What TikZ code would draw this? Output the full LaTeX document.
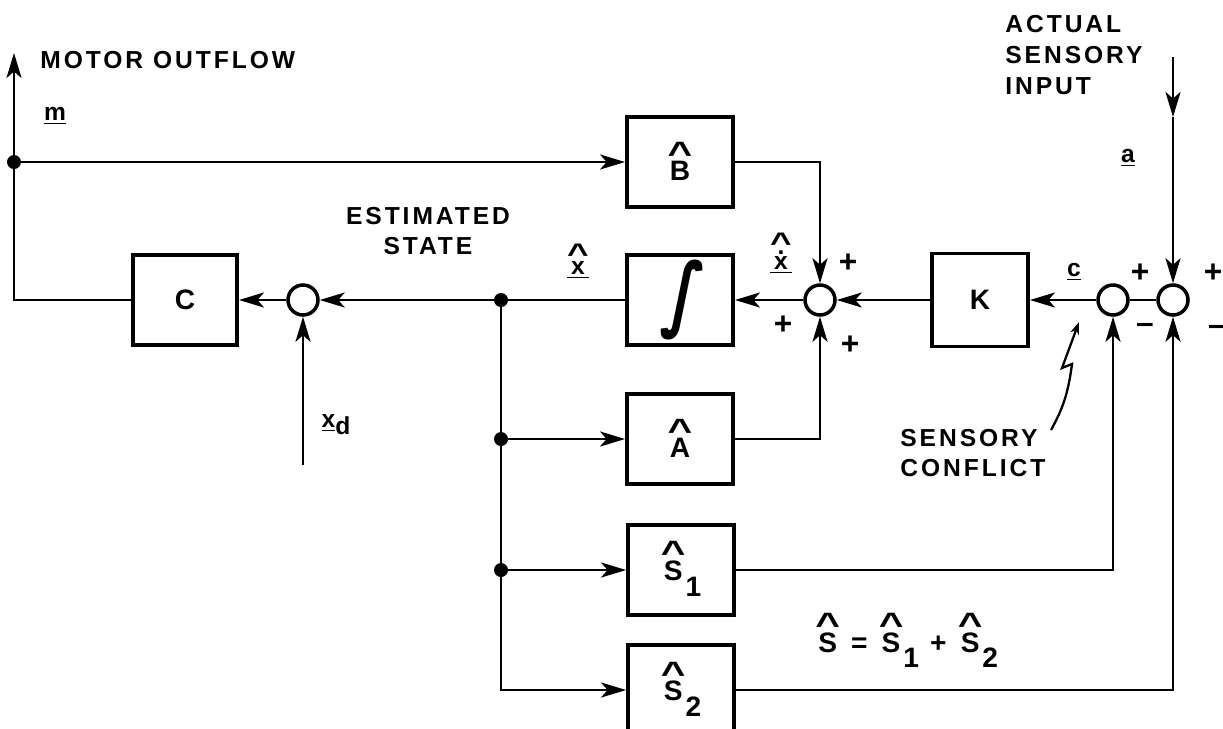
\documentclass[tikz,border=0pt]{standalone}
\usepackage{fontspec}
\setmainfont{Liberation Sans}
\newfontfamily\lettrage[LetterSpace=12]{Liberation Sans}
\newfontfamily\integ[FakeSlant=0.2]{DejaVu Sans}
\usetikzlibrary{arrows.meta}

\newcommand\empile[2]{\leavevmode\vbox{\offinterlineskip\halign{\hfil##\hfil\cr#1\cr\noalign{\kern3pt}#2\cr}}}
\newcommand\chapeau[1]{\empile{\raisebox{-0.3em}[0.42em][0pt]{\scalebox{1.5}[1.15]{\textasciicircum}}}{#1}}
\newcommand\pointe[1]{\leavevmode\vbox{\offinterlineskip\halign{\hfil##\hfil\cr.\cr\noalign{\kern1.5pt}#1\cr}}}
\newcommand\indice[1]{\raisebox{-9pt}{#1}}
\newcommand\souligne[1]{$\underline{\hbox{#1}}$}

\begin{document}
\begin{tikzpicture}[x=0.02cm,y=-0.02cm,
  bloc/.style={draw,line width=2.2pt,minimum width=2.12cm,minimum height=1.8cm,inner sep=0pt,
    font=\lettrage\bfseries\fontsize{16}{18}\selectfont},
  somme/.style={draw,circle,line width=2pt,minimum size=0.6cm,inner sep=0pt},
  point/.style={fill,circle,minimum size=0.28cm,inner sep=0pt},
  ligne/.style={line width=1.5pt},
  fleche/.style={ligne,-{Stealth[length=5mm,width=3mm,inset=1.3mm]}},
  texte/.style={font=\lettrage\bfseries\fontsize{14}{17.6}\selectfont,inner sep=0pt},
  signe/.style={font=\bfseries\fontsize{18}{18}\selectfont,inner sep=0pt}]
\useasboundingbox (0,0) rectangle (1223,728);

% Blocs
\node[bloc] (B) at (680,162) {\chapeau{B}};
\node[bloc] (I) at (680,300) {\resizebox*{0.75cm}{1.6cm}{\integ ∫}};
\node[bloc] (A) at (680,439) {\chapeau{A}};
\node[bloc] (S1) at (681,570) {\chapeau{S}\indice{1}};
\node[bloc] (S2) at (681,690) {\chapeau{S}\indice{2}};
\node[bloc,minimum width=2.08cm] (C) at (185,300) {C};
\node[bloc,minimum width=1.92cm,minimum height=1.86cm] (K) at (980,300) {K};

% Sommateurs et points
\node[somme] (sC) at (303,300) {};
\node[somme] (s1) at (820,300) {};
\node[somme] (s2) at (1113,300) {};
\node[somme] (s3) at (1173,300) {};
\node[point] (pm) at (14,162) {};
\node[point] (p0) at (501,300) {};
\node[point] (pA) at (501,439) {};
\node[point] (pS) at (501,570) {};
\coordinate (sortie) at (14,53);
\coordinate (coin) at (14,300);
\coordinate (xd) at (303,465);
\coordinate (ain) at (1173,57);
\coordinate (amid) at (1173,117);

% Liaisons
\draw[ligne] (C.west) -- (coin) -- (pm);
\draw[fleche] (pm) -- (sortie);
\draw[fleche] (pm) -- (B.west);
\draw[fleche] (B.east) -| (s1.north);
\draw[fleche] (A.east) -| (s1.south);
\draw[fleche] (K.west) -- (s1.east);
\draw[fleche] (s1.west) -- (I.east);
\draw[ligne] (I.west) -- (p0);
\draw[fleche] (p0) -- (sC.east);
\draw[fleche] (sC.west) -- (C.east);
\draw[fleche] (xd) -- (sC.south);
\draw[ligne] (p0) -- (pA) -- (pS);
\draw[fleche] (pA) -- (A.west);
\draw[fleche] (pS) -- (S1.west);
\draw[fleche] (pS) |- (S2.west);
\draw[fleche] (S1.east) -| (s2.south);
\draw[fleche] (S2.east) -| (s3.south);
\draw[fleche] (s2.west) -- (K.east);
\draw[ligne] (s2) -- (s3);
\draw[fleche] (ain) -- (amid);
\draw[fleche] (amid) -- (s3.north);

% Textes
\node[texte,anchor=west] (motor) at (40,60) {MOTOR OUTFLOW};
\node[texte] (m) at (55,116) {\souligne{m}};
\node[texte,align=left,anchor=north west] (act) at (1005,15) {ACTUAL\\SENSORY\\INPUT};
\node[texte] (a) at (1128,158) {\souligne{a}};
\node[texte,align=center] (est) at (428,231) {ESTIMATED\\STATE};
\node[texte] (xh) at (578,262) {\souligne{\chapeau{x}}};
\node[texte] (xp) at (781,254) {\souligne{\chapeau{\pointe{x}}}};
\node[texte] (c) at (1074,272) {\souligne{c}};
\node[texte] (xdl) at (336,425) {\souligne{x}\raisebox{-4pt}{d}};
\node[texte,align=left,anchor=west] (conf) at (900,453) {SENSORY\\CONFLICT};
\node[texte,font=\lettrage\bfseries\fontsize{16}{18}\selectfont,anchor=base west] (eq) at (815,652)
  {\chapeau{S} = \chapeau{S}\indice{1} + \chapeau{S}\indice{2}};
\draw[line width=1.3pt,{Stealth[length=2.5mm,width=1.8mm]}-] (1079,322) -- (1062,368) -- (1072,364)
  .. controls (1068,395) and (1062,410) .. (1051,430);

% Signes
\node[signe] (g1) at (848,263) {+};
\node[signe] (g2) at (783,325) {+};
\node[signe] (g3) at (850,345) {+};
\node[signe] (g4) at (1140,273) {+};
\node[signe] (g5) at (1145,328) {--};
\node[signe] (g6) at (1213,273) {+};
\node[signe] (g7) at (1217,330) {--};
\end{tikzpicture}
\end{document}
